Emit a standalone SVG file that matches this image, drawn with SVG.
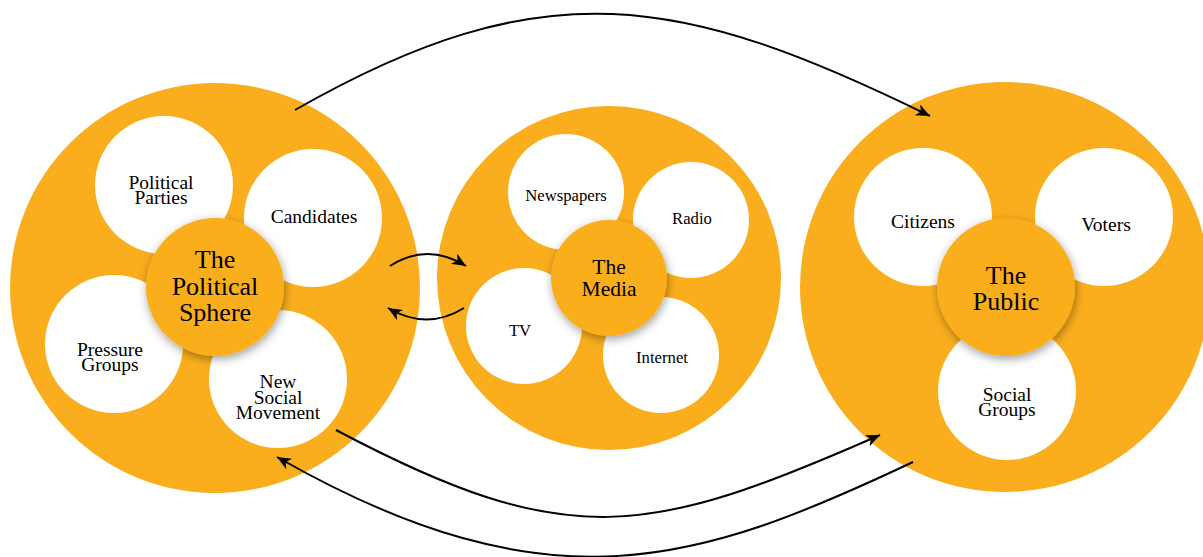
<svg xmlns="http://www.w3.org/2000/svg" width="1203" height="557" viewBox="0 0 1203 557">
<defs>
<style>
.big{fill:#FAAE1D}
.sub{fill:#FFFFFF}
.hub{fill:#FAAE1D;filter:url(#sh)}
text{font-family:"Liberation Serif","Times New Roman",serif;fill:#000;text-anchor:middle}
.t1{font-size:19.5px}
.t2{font-size:16.7px}
.h1{font-size:26px}
.h2{font-size:21.5px}
.con{fill:none;stroke:#000;stroke-width:2}
</style>
<filter id="sh" x="-30%" y="-30%" width="160%" height="160%">
<feDropShadow dx="1" dy="3" stdDeviation="5" flood-color="#000" flood-opacity="0.38"/>
</filter>
<marker id="ah" markerUnits="userSpaceOnUse" markerWidth="16" markerHeight="14" refX="14" refY="6" orient="auto" viewBox="0 0 16 14">
<path d="M0,0 L14,6 L0,12 L4,6 z" fill="#000"/>
</marker>
</defs>
<rect width="1203" height="557" fill="#FFFFFF"/>

<g id="political-sphere">
<circle class="big" cx="215" cy="288" r="205"/>
<g id="political-parties"><circle class="sub" cx="164" cy="185" r="69"/><text class="t1" x="161" y="189">Political</text><text class="t1" x="161" y="204">Parties</text></g>
<g id="candidates"><circle class="sub" cx="313" cy="218" r="69"/><text class="t1" x="314" y="223">Candidates</text></g>
<g id="pressure-groups"><circle class="sub" cx="114" cy="344" r="69"/><text class="t1" x="110" y="356">Pressure</text><text class="t1" x="110" y="371">Groups</text></g>
<g id="new-social-movement"><circle class="sub" cx="278" cy="379" r="69"/><text class="t1" x="278" y="388">New</text><text class="t1" x="278" y="404">Social</text><text class="t1" x="278" y="419">Movement</text></g>
<g id="political-hub"><circle class="hub" cx="215" cy="287" r="69"/><text class="h1" x="215" y="268">The</text><text class="h1" x="215" y="295">Political</text><text class="h1" x="215" y="321">Sphere</text></g>
</g>

<g id="media">
<circle class="big" cx="609" cy="278" r="172"/>
<g id="newspapers"><circle class="sub" cx="566" cy="192" r="58"/><text class="t2" x="566" y="201">Newspapers</text></g>
<g id="radio"><circle class="sub" cx="691" cy="220" r="58"/><text class="t2" x="692" y="224">Radio</text></g>
<g id="tv"><circle class="sub" cx="524" cy="326" r="58"/><text class="t2" x="520" y="336">TV</text></g>
<g id="internet"><circle class="sub" cx="661" cy="355" r="58"/><text class="t2" x="662" y="363">Internet</text></g>
<g id="media-hub"><circle class="hub" cx="609" cy="278" r="58"/><text class="h2" x="609" y="274">The</text><text class="h2" x="609" y="296">Media</text></g>
</g>

<g id="public">
<circle class="big" cx="1005" cy="287" r="205"/>
<g id="citizens"><circle class="sub" cx="923" cy="217" r="69"/><text class="t1" x="923" y="228">Citizens</text></g>
<g id="voters"><circle class="sub" cx="1104" cy="217" r="69"/><text class="t1" x="1106" y="231">Voters</text></g>
<g id="social-groups"><circle class="sub" cx="1007" cy="391" r="69"/><text class="t1" x="1007" y="401">Social</text><text class="t1" x="1007" y="416">Groups</text></g>
<g id="public-hub"><circle class="hub" cx="1006" cy="287" r="69"/><text class="h1" x="1006" y="284">The</text><text class="h1" x="1006" y="310">Public</text></g>
</g>

<g id="connectors">
<path class="con" marker-end="url(#ah)" d="M295,110 C544,-32 681,-6 930,116"/>
<path class="con" marker-end="url(#ah)" d="M336,430 C568,553 648,537 880,435"/>
<path class="con" marker-end="url(#ah)" d="M913,462 C701,562 552,614 277,457"/>
<path class="con" marker-end="url(#ah)" d="M390,266 Q427,242 466,266"/>
<path class="con" marker-end="url(#ah)" d="M464,308 Q427,331 388,308"/>
</g>
</svg>
